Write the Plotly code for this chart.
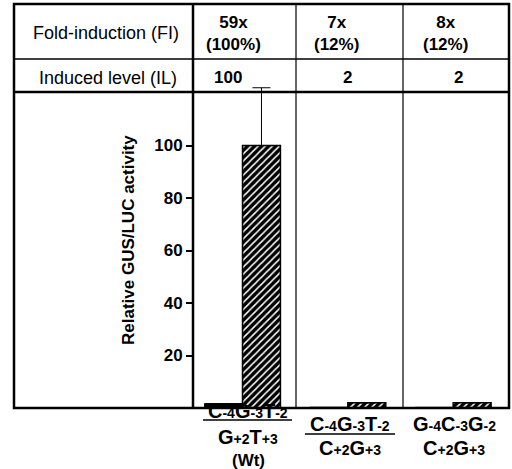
import plotly.graph_objects as go

# ---- data ----
categories = ["Wt", "M1", "M2"]
uninduced = [1.7, 0.3, 0.25]
induced = [100, 2, 2]
induced_err = [22, None, None]
fold_text = ["59x<br>(100%)", "7x<br>(12%)", "8x<br>(12%)"]
il_text = ["100", "2", "2"]
yticks = [20, 40, 60, 80, 100]
cat_top = [[("C", "-4"), ("G", "-3"), ("T", "-2")],
           [("C", "-4"), ("G", "-3"), ("T", "-2")],
           [("G", "-4"), ("C", "-3"), ("G", "-2")]]
cat_bot = [[("G", "+2"), ("T", "+3")], [("C", "+2"), ("G", "+3")], [("C", "+2"), ("G", "+3")]]

W, H = 512, 469
def px(x): return x / W
def py(y): return 1 - y / H

FONT = "Liberation Sans, Arial, sans-serif"

def seq(parts):
    return "".join(f'{b}<span style="font-size:14px">{s}</span>' for b, s in parts)

fig = go.Figure()
fig.add_trace(go.Bar(x=categories, y=uninduced, marker=dict(color="black", line=dict(color="black", width=1)),
                     showlegend=False))
fig.add_trace(go.Bar(x=categories, y=induced,
                     marker=dict(color="black", line=dict(color="black", width=1.5),
                                 pattern=dict(shape="/", fgcolor="white", bgcolor="black", size=5,
                                              solidity=0.3, fillmode="replace")),
                     error_y=dict(type="data", array=induced_err, arrayminus=[0, 0, 0], symmetric=False,
                                  color="black", thickness=1, width=9),
                     cliponaxis=False, showlegend=False))

fig.update_layout(
    width=W, height=H, margin=dict(l=0, r=0, t=0, b=0),
    paper_bgcolor="white", plot_bgcolor="rgba(0,0,0,0)",
    barmode="group", bargap=0.28, bargroupgap=0,
    font=dict(family=FONT, color="black"),
    xaxis=dict(domain=[px(193), px(509)], range=[-0.47, 2.53], showticklabels=False,
               ticks="", showgrid=False, zeroline=False, showline=False),
    yaxis=dict(domain=[1 - 408 / H, 1 - 84 / H], range=[0, (408 - 84) / 2.625], tickvals=yticks,
               ticks="outside", ticklen=6, tickwidth=1.5, tickcolor="black",
               tickfont=dict(size=17, family=FONT, weight="bold"),
               showgrid=False, zeroline=False, showline=False),
)

shapes = []
lw_out = 2.5
# outer box
shapes.append(dict(type="rect", xref="paper", yref="paper", x0=px(14), x1=px(509), y0=py(408), y1=py(4),
                   line=dict(color="black", width=lw_out)))
# horizontal row lines
shapes.append(dict(type="line", xref="paper", yref="paper", x0=px(14), x1=px(509), y0=py(59), y1=py(59),
                   line=dict(color="black", width=1.5)))
shapes.append(dict(type="line", xref="paper", yref="paper", x0=px(14), x1=px(509), y0=py(92), y1=py(92),
                   line=dict(color="black", width=2.5)))
# vertical column lines
shapes.append(dict(type="line", xref="paper", yref="paper", x0=px(193), x1=px(193), y0=py(408), y1=py(4),
                   line=dict(color="black", width=2.5)))
for xv in [296, 403]:
    shapes.append(dict(type="line", xref="paper", yref="paper", x0=px(xv), x1=px(xv), y0=py(408), y1=py(4),
                       line=dict(color="black", width=1.2)))
# underlines of top label lines
for x0, x1, yy in [(203, 292, 420), (305, 395, 434)]:
    shapes.append(dict(type="line", xref="paper", yref="paper", x0=px(x0), x1=px(x1), y0=py(yy), y1=py(yy),
                       line=dict(color="black", width=1.5)))
fig.update_layout(shapes=shapes)

ann = []
# table labels
ann.append(dict(x=px(106), y=py(33), text="Fold-induction (FI)", font=dict(size=18)))
ann.append(dict(x=px(108), y=py(78), text="Induced level (IL)", font=dict(size=18)))
for t, xc in zip(fold_text, [233, 336, 445]):
    ann.append(dict(x=px(xc), y=py(33), text=t, font=dict(size=17, weight="bold")))
for t, xc in zip(il_text, [228, 347, 458]):
    ann.append(dict(x=px(xc), y=py(78), text=t, font=dict(size=17, weight="bold")))
# y title
ann.append(dict(x=px(128), y=py(240), text="Relative GUS/LUC activity", textangle=-90,
                font=dict(size=17, weight="bold")))
# category labels
lab_pos = [(248, 411, 437, 460), (350, 424, 448, None), (454, 424, 448, None)]
for (xc, y1, y2, y3), t1, t2 in zip(lab_pos, cat_top, cat_bot):
    ann.append(dict(x=px(xc), y=py(y1), text=seq(t1), font=dict(size=20, weight="bold")))
    ann.append(dict(x=px(xc), y=py(y2), text=seq(t2), font=dict(size=20, weight="bold")))
    if y3:
        ann.append(dict(x=px(xc), y=py(y3), text="(Wt)", font=dict(size=17, weight="bold")))
for a in ann:
    a.update(xref="paper", yref="paper", showarrow=False, xanchor="center", yanchor="middle")
fig.update_layout(annotations=ann)

fig.write_html("out.html", config={"displayModeBar": False},
               post_script="document.body.style.margin='0';document.body.style.padding='0';")
